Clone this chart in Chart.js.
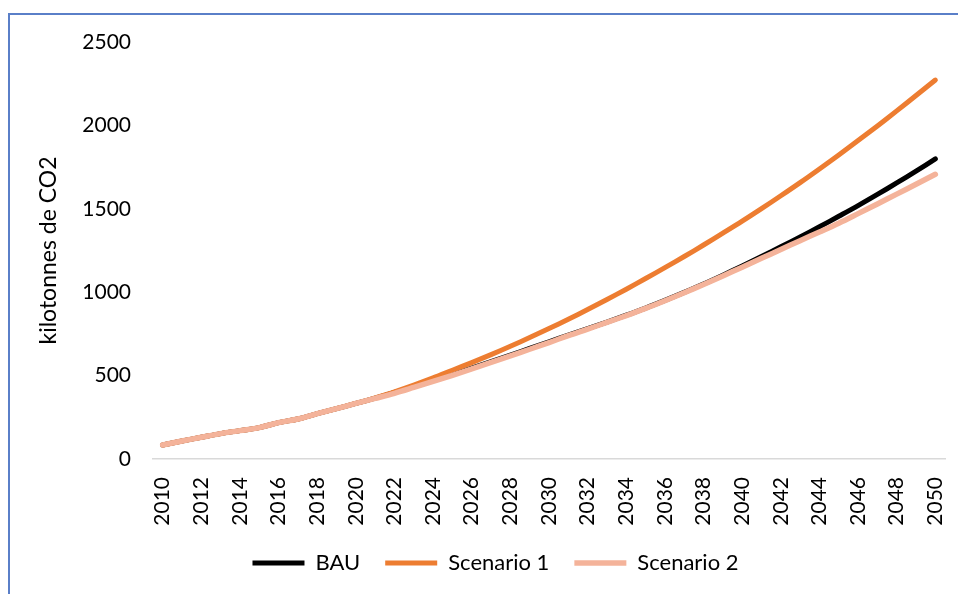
<!DOCTYPE html>
<html>
<head>
<meta charset="utf-8">
<script src="https://cdn.jsdelivr.net/npm/chart.js@4"></script>
<style>
  html, body { margin: 0; padding: 0; background: #fff; width: 958px; height: 594px; overflow: hidden; }
  #frame { position: absolute; left: 8px; top: 13px; width: 1200px; height: 800px; border-top: 2px solid #5a7fc8; border-left: 2px solid #5a7fc8; }
  #c { position: absolute; left: 0; top: 0; }
</style>
</head>
<body>
<div id="frame"></div>
<canvas id="c" width="958" height="594"></canvas>
<script>
const years = [];
for (let y = 2010; y <= 2050; y++) years.push(String(y));

const bau = [84,108,130,152,170,188,218,240,272,302,333,365,399,434,470,507,545,584,623,663,703,742,781,821,862,905,951,999,1049,1102,1157,1214,1272,1331,1392,1455,1519,1586,1655,1726,1799];
const scenario1 = [84,108,130,152,170,188,218,240,272,302,333,367,403,443,486,532,578,626,676,728,782,838,896,956,1018,1082,1147,1214,1283,1354,1426,1501,1578,1657,1739,1823,1909,1997,2087,2179,2272];
const scenario2 = [84,108,130,152,170,188,218,240,272,302,333,363,394,429,465,502,540,579,618,658,698,740,779,819,860,903,949,997,1046,1097,1150,1203,1256,1309,1361,1414,1471,1529,1588,1647,1707];

const seriesNames = ['BAU', 'Scenario 1', 'Scenario 2'];
const yTicks = [0, 500, 1000, 1500, 2000, 2500];
const yTitle = 'kilotonnes de CO2';

const FONT = 'Lato';
const mk = (label, data, color, w, order) => ({
  label, data, borderColor: color, backgroundColor: color,
  borderWidth: w, pointRadius: 0, tension: 0.35, order,
  borderCapStyle: 'round', borderJoinStyle: 'round', fill: false
});

const legendShift = {
  id: 'legendShift',
  afterLayout(chart) {
    const lg = chart.legend;
    if (lg) { lg.left += 23; lg.right += 23; }
  }
};

new Chart(document.getElementById('c'), {
  type: 'line',
  data: {
    labels: years,
    datasets: [
      mk(seriesNames[0], bau, '#000000', 5, 3),
      mk(seriesNames[1], scenario1, '#ED7D31', 5, 2),
      mk(seriesNames[2], scenario2, '#F4B39A', 5.5, 1)
    ]
  },
  plugins: [legendShift],
  options: {
    responsive: false,
    animation: false,
    devicePixelRatio: 1,
    layout: { padding: { top: 42, right: 13, bottom: 10, left: 0 } },
    plugins: {
      tooltip: { enabled: false },
      legend: {
        position: 'bottom',
        labels: {
          usePointStyle: true,
          pointStyle: 'line',
          pointStyleWidth: 52,
          color: '#000',
          font: { family: FONT, size: 22 },
          padding: 25,
          sort: (a, b) => a.datasetIndex - b.datasetIndex
        }
      }
    },
    scales: {
      x: {
        offset: true,
        grid: { display: false, drawTicks: false },
        border: { display: true, color: '#d9d9d9', width: 1.5 },
        ticks: {
          autoSkip: false, maxRotation: 90, minRotation: 90, padding: 18,
          color: '#000', font: { family: FONT, size: 21 },
          callback: function(v, i) { return i % 2 === 0 ? this.getLabelForValue(v) : ''; }
        },
        afterFit: s => { s.height = 68; s.paddingLeft = 0; s.paddingRight = 0; }
      },
      y: {
        min: 0, max: 2500,
        afterBuildTicks: s => { s.ticks = yTicks.map(v => ({ value: v })); },
        grid: { display: false, drawTicks: false },
        border: { display: false },
        ticks: { padding: 22, color: '#000', font: { family: FONT, size: 21 }, callback: v => String(v) },
        title: { display: true, text: yTitle, color: '#000', font: { family: FONT, size: 23 }, padding: { top: 35, bottom: 0 } },
        afterFit: s => { s.width = 153; }
      }
    }
  }
});
</script>
</body>
</html>
